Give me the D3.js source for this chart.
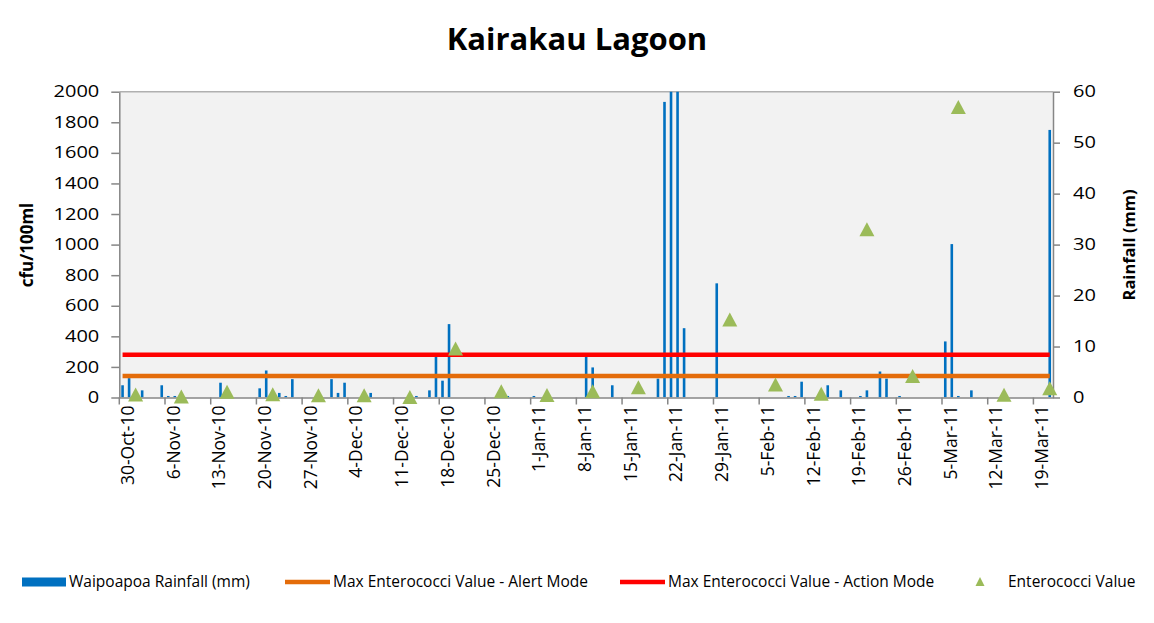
<!DOCTYPE html>
<html>
<head>
<meta charset="utf-8">
<script src="https://cdnjs.cloudflare.com/ajax/libs/d3/7.8.5/d3.min.js"></script>
<style>
    body { margin: 0; background: #ffffff; }
    text { font-family: "Open Sans", sans-serif; fill: #000000; }
</style>
</head>
<body>
<div id="chart"></div>
<script>

// rainfall (mm, right axis)
var rainDates = ["2010-10-30","2010-10-31","2010-11-02","2010-11-05","2010-11-06","2010-11-07","2010-11-14",
    "2010-11-20","2010-11-21","2010-11-23","2010-11-24","2010-11-25","2010-12-01","2010-12-02","2010-12-03",
    "2010-12-07","2010-12-14","2010-12-16","2010-12-17","2010-12-18","2010-12-19","2010-12-28","2011-01-01",
    "2011-01-09","2011-01-10","2011-01-13","2011-01-20","2011-01-21","2011-01-22","2011-01-23","2011-01-24",
    "2011-01-29","2011-02-09","2011-02-10","2011-02-11","2011-02-15","2011-02-17","2011-02-20","2011-02-21",
    "2011-02-23","2011-02-24","2011-02-26","2011-03-05","2011-03-06","2011-03-07","2011-03-09","2011-03-21"];
var rainValues = [2.4, 3.8, 1.4, 2.4, 0.3, 0.3, 2.9,
    1.8, 5.3, 0.9, 0.3, 3.6, 3.6, 0.9, 2.9,
    0.9, 0.3, 1.4, 8.0, 3.3, 14.4, 0.3, 0.3,
    8.0, 5.9, 2.4, 3.7, 58.0, 70, 70, 13.6,
    22.4, 0.3, 0.3, 3.1, 2.4, 1.4, 0.3, 1.4,
    5.1, 3.7, 0.3, 11.0, 30.1, 0.3, 1.4, 52.5];

// enterococci samples (cfu/100ml, left axis)
var enteroDates = ["2010-11-01","2010-11-08","2010-11-15","2010-11-22","2010-11-29","2010-12-06","2010-12-13",
    "2010-12-20","2010-12-27","2011-01-03","2011-01-10","2011-01-17","2011-01-31","2011-02-07","2011-02-14",
    "2011-02-21","2011-02-28","2011-03-07","2011-03-14","2011-03-21"];
var enteroValues = [20, 7, 37, 21, 14, 14, 3,
    320, 41, 16, 41, 67, 510, 85, 24,
    1100, 140, 1900, 18, 60];

// guideline limits
var alertValue = 140;
var actionValue = 280;

var firstDay = "2010-10-30";
var lastDay = "2011-03-21";
var leftTicks = [0, 200, 400, 600, 800, 1000, 1200, 1400, 1600, 1800, 2000];
var rightTicks = [0, 10, 20, 30, 40, 50, 60];

var seriesNames = ["Waipoapoa Rainfall (mm)", "Max Enterococci Value - Alert Mode",
    "Max Enterococci Value - Action Mode", "Enterococci Value"];

var parseDate = d3.timeParse("%Y-%m-%d");
var formatDate = d3.timeFormat("%-d-%b-%y");

var colors = { rain: "#0070C0", alert: "#E46C0A", action: "#FF0000", entero: "#9BBB59", axis: "#868686" };

// SVG Size
var margin = { top: 91.7, right: 101, bottom: 225.5, left: 119.3 };
var totalWidth = 1154, totalHeight = 623;
var width = totalWidth - margin.left - margin.right;
var height = totalHeight - margin.top - margin.bottom;

var svg = d3.select("#chart").append("svg")
    .attr("width", totalWidth)
    .attr("height", totalHeight);

var g = svg.append("g")
    .attr("transform", "translate(" + margin.left + "," + margin.top + ")");

// one band per day
var days = d3.timeDay.range(parseDate(firstDay), d3.timeDay.offset(parseDate(lastDay), 1));
var x = d3.scaleBand().domain(days.map(function(d) { return +d; })).range([0, width]).padding(0);
var bw = x.bandwidth();
function xc(d) { return x(+d) + bw / 2; }

var yLeft = d3.scaleLinear().domain([0, 2000]).range([height, 0]);
var yRight = d3.scaleLinear().domain([0, 60]).range([height, 0]);

// plot area
g.append("rect")
    .attr("width", width)
    .attr("height", height)
    .attr("fill", "#F2F2F2");

g.append("line")
    .attr("x1", 0).attr("x2", width)
    .attr("y1", 0).attr("y2", 0)
    .attr("stroke", "#B0B0B0")
    .attr("stroke-width", 1.5);

svg.append("clipPath").attr("id", "plotClip")
    .append("rect").attr("width", width).attr("height", height);

// rainfall bars
var rain = rainDates.map(function(d, i) { return { date: parseDate(d), value: rainValues[i] }; });
g.append("g")
    .attr("clip-path", "url(#plotClip)")
    .selectAll("rect")
    .data(rain)
    .enter().append("rect")
    .attr("x", function(d) { return xc(d.date) - 1.3; })
    .attr("width", 2.6)
    .attr("y", function(d) { return yRight(d.value); })
    .attr("height", function(d) { return height - yRight(d.value); })
    .attr("fill", colors.rain);

// limit lines run from first to last day
[[alertValue, colors.alert], [actionValue, colors.action]].forEach(function(l) {
    g.append("line")
        .attr("x1", xc(days[0])).attr("x2", xc(days[days.length - 1]))
        .attr("y1", yLeft(l[0])).attr("y2", yLeft(l[0]))
        .attr("stroke", l[1])
        .attr("stroke-width", 4.5);
});

// axes
var leftAxis = g.append("g")
    .call(d3.axisLeft(yLeft).tickValues(leftTicks).tickSize(8).tickSizeOuter(0).tickFormat(d3.format("d")));
leftAxis.selectAll("text")
    .attr("x", -16)
    .attr("transform", "scale(1.25,1)")
    .style("font-size", "16px");

var rightAxis = g.append("g")
    .attr("transform", "translate(" + width + ",0)")
    .call(d3.axisRight(yRight).tickValues(rightTicks).tickSize(7).tickSizeOuter(0).tickFormat(d3.format("d")));
rightAxis.selectAll("text")
    .attr("x", 16)
    .attr("transform", "scale(1.25,1)")
    .style("font-size", "16px");

var labelDays = days.filter(function(d, i) { return i % 7 === 0; });
var bottomAxis = g.append("g")
    .attr("transform", "translate(0," + height + ")")
    .call(d3.axisBottom(x).tickValues(labelDays.map(function(d) { return +d; }))
        .tickSize(0).tickSizeOuter(0)
        .tickFormat(function(d) { return formatDate(new Date(d)); }));
bottomAxis.selectAll("text")
    .attr("transform", "rotate(-90)")
    .attr("text-anchor", "end")
    .attr("x", -8)
    .attr("y", 0)
    .attr("dy", "0.65em")
    .style("font-size", "17.5px");

// week ticks sit on the day boundaries
bottomAxis.selectAll(".weekTick")
    .data(labelDays)
    .enter().append("line")
    .attr("class", "weekTick")
    .attr("x1", function(d) { return x(+d); }).attr("x2", function(d) { return x(+d); })
    .attr("y1", 0).attr("y2", 7);

[leftAxis, rightAxis, bottomAxis].forEach(function(a) {
    a.selectAll("path, line").attr("stroke", colors.axis).attr("stroke-width", 1.5);
});

// enterococci triangles
var entero = enteroDates.map(function(d, i) { return { date: parseDate(d), value: enteroValues[i] }; });
var tri = "M0,-7L7.5,7L-7.5,7Z";
g.append("g")
    .selectAll("path")
    .data(entero)
    .enter().append("path")
    .attr("d", tri)
    .attr("transform", function(d) { return "translate(" + xc(d.date) + "," + yLeft(d.value) + ")"; })
    .attr("fill", colors.entero);

// titles
svg.append("text")
    .attr("x", 577).attr("y", 50)
    .attr("text-anchor", "middle")
    .style("font-size", "31px")
    .style("font-weight", "bold")
    .text("Kairakau Lagoon");

svg.append("text")
    .attr("transform", "translate(33,245) rotate(-90)")
    .attr("text-anchor", "middle")
    .style("font-size", "17px")
    .style("font-weight", "bold")
    .text("cfu/100ml");

svg.append("text")
    .attr("transform", "translate(1135,245) rotate(-90)")
    .attr("text-anchor", "middle")
    .style("font-size", "16.5px")
    .style("font-weight", "bold")
    .text("Rainfall (mm)");

// legend
var legend = svg.append("g").attr("transform", "translate(0,582)");
var legendX = [22, 285, 620, 972];

legend.append("rect")
    .attr("x", legendX[0]).attr("y", -4.5)
    .attr("width", 44).attr("height", 9)
    .attr("fill", colors.rain);
legend.append("line")
    .attr("x1", legendX[1]).attr("x2", legendX[1] + 45)
    .attr("stroke", colors.alert).attr("stroke-width", 4.5);
legend.append("line")
    .attr("x1", legendX[2]).attr("x2", legendX[2] + 45)
    .attr("stroke", colors.action).attr("stroke-width", 4.5);
legend.append("path")
    .attr("d", "M0,-5L4.5,4L-4.5,4Z")
    .attr("transform", "translate(" + (legendX[3] + 8) + ",0)")
    .attr("fill", colors.entero);

var legendTextX = [69, 333, 668, 1008];
legend.selectAll(".legText")
    .data(seriesNames)
    .enter().append("text")
    .attr("class", "legText")
    .attr("x", function(d, i) { return legendTextX[i]; })
    .attr("dy", "0.35em")
    .style("font-size", "15.5px")
    .text(function(d) { return d; });

</script>
</body>
</html>
